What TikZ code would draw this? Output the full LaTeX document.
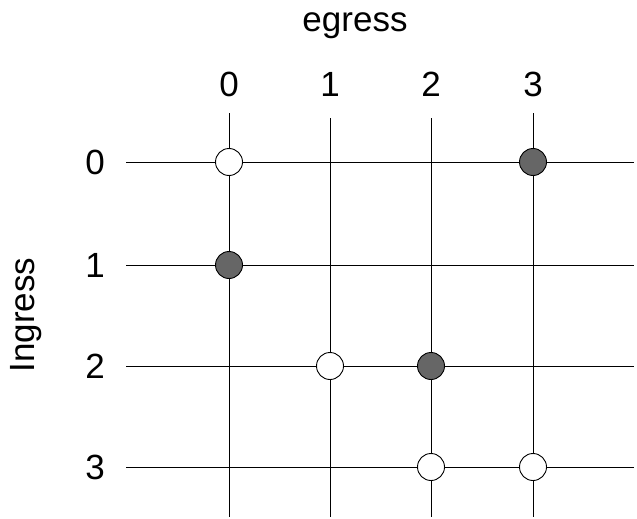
\documentclass[tikz,border=0pt]{standalone}
\usepackage{fontspec}
\setmainfont{Liberation Sans}
\usetikzlibrary{calc}

\begin{document}
\begin{tikzpicture}[x=1pt, y=-1pt, every node/.style={font=\fontsize{35}{38}\selectfont},
  port/.style={draw, line width=0.9pt, circle, minimum size=27pt, inner sep=0pt},
  busy/.style={port, fill=black!60}, idle/.style={port, fill=white}]
\useasboundingbox (0,0) rectangle (637,519);
\foreach \i/\x in {0/229,1/330,2/431,3/533}{%
  \coordinate (e\i) at (\x,0);
  \node (c\i) at (\x,84) {\i};}
\foreach \j/\y in {0/162,1/265,2/366,3/467}{%
  \coordinate (r\j) at (0,\y);
  \node (n\j) at (95,\y) {\j};}
\node (egress) at (355,26) {egress};
\node[rotate=90] (ingress) at (26,315) {Ingress};
\foreach \i/\t in {0/113,1/118,2/118,3/113} \draw[line width=0.8pt] (e\i |- 0,\t) -- (e\i |- 0,517);
\foreach \j in {0,...,3} \draw[line width=0.8pt] (126,0 |- r\j) -- (634,0 |- r\j);
\foreach \i/\j in {0/0,1/2,2/3,3/3} \node[idle] (p\i\j) at (e\i |- r\j) {};
\foreach \i/\j in {3/0,0/1,2/2} \node[busy] (p\i\j) at (e\i |- r\j) {};
\end{tikzpicture}
\end{document}
